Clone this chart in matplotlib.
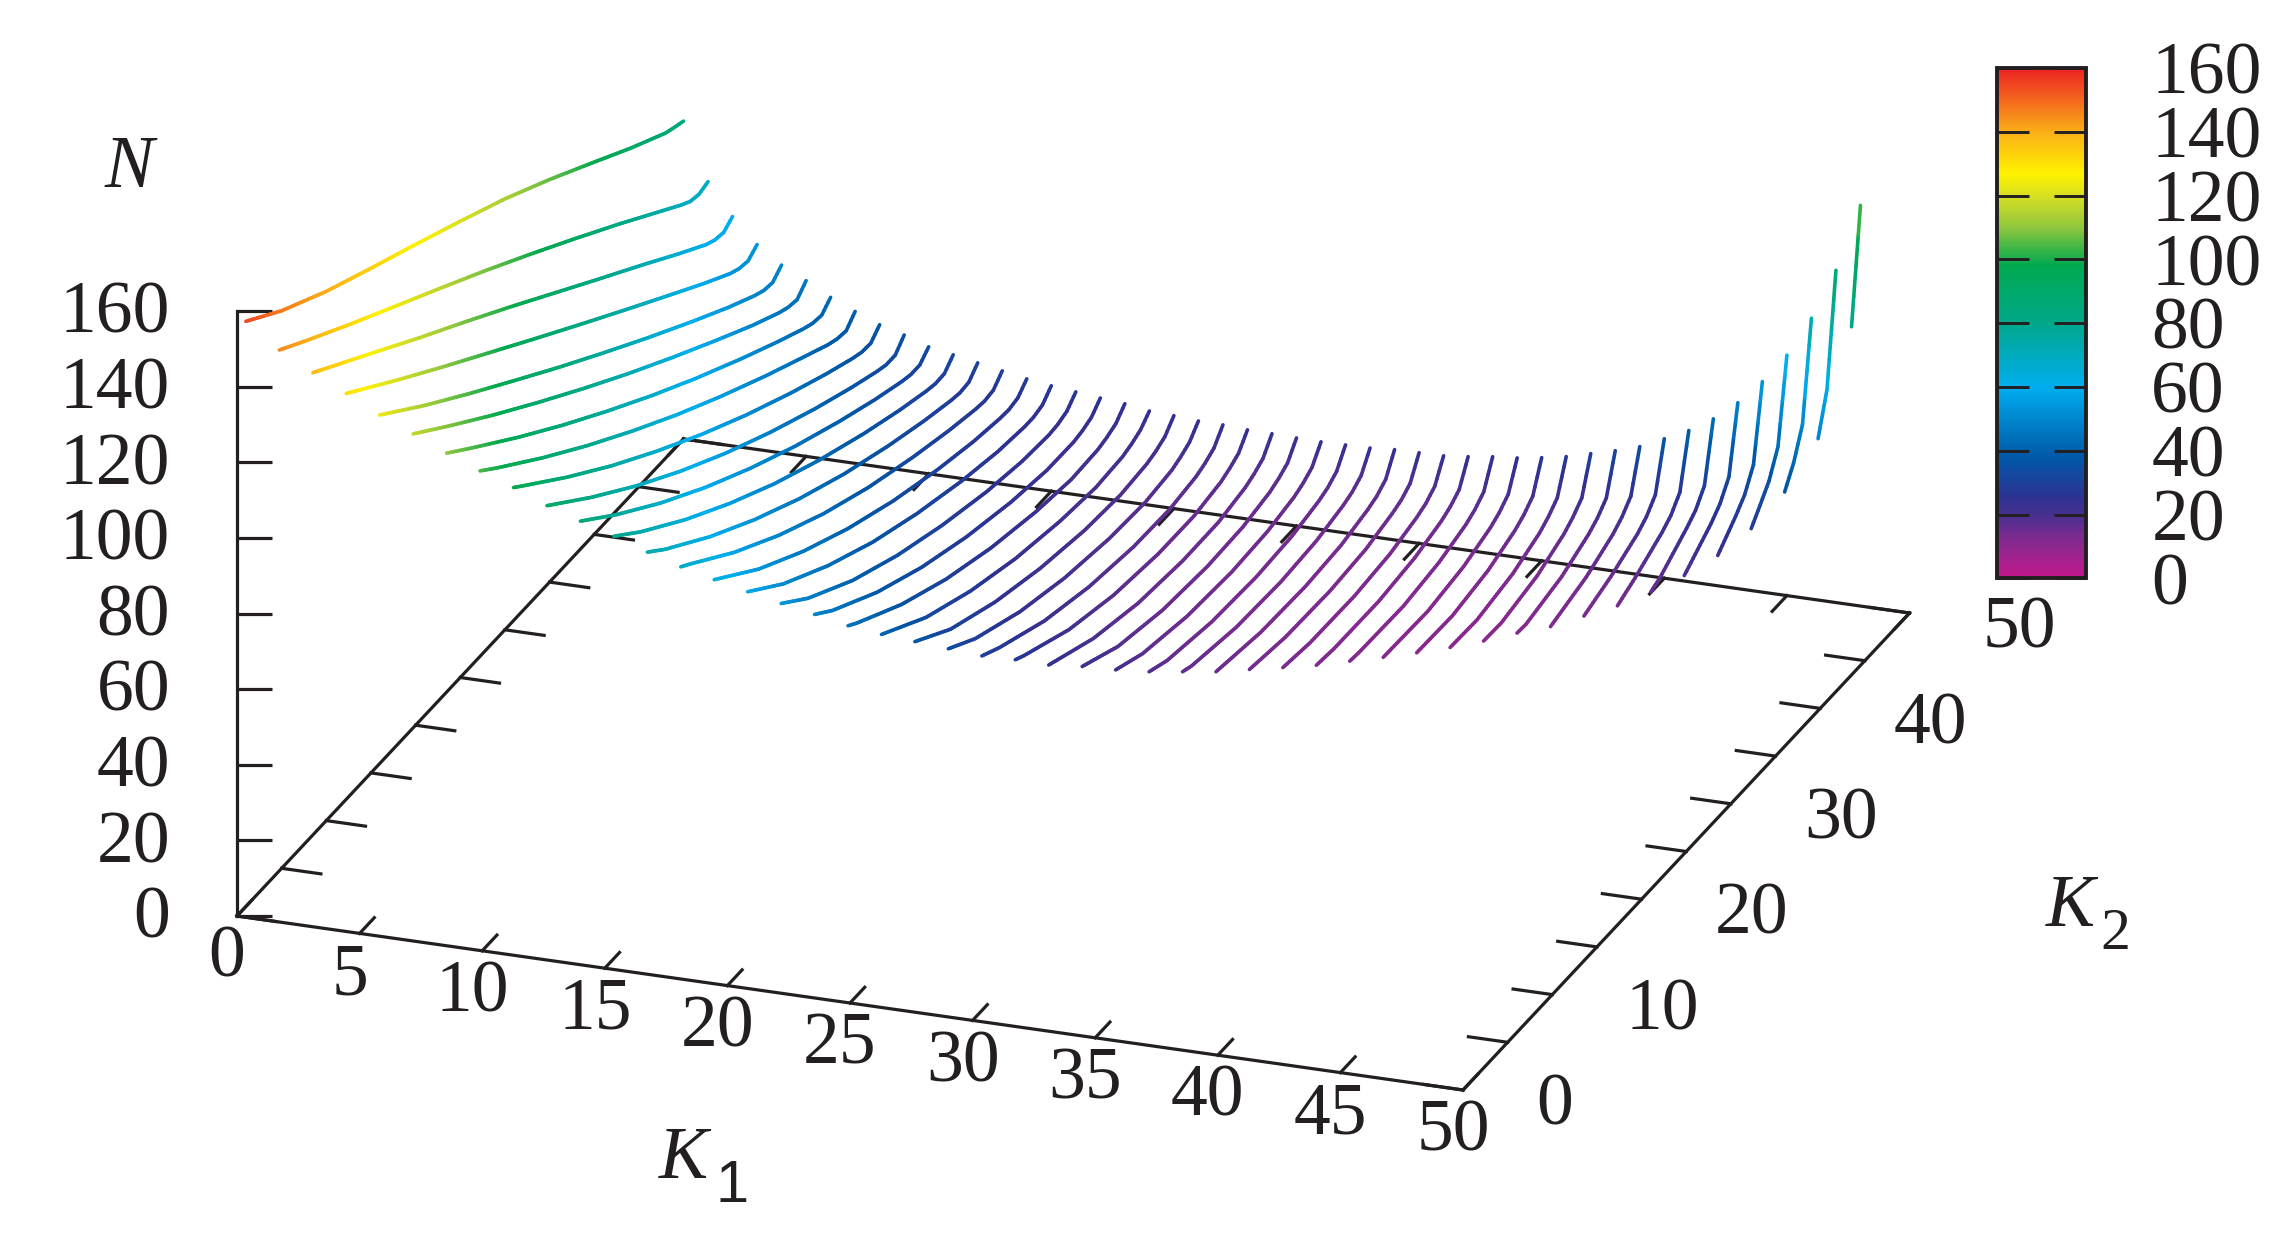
import numpy as np
import matplotlib
matplotlib.use('Agg')
import matplotlib.pyplot as plt
from matplotlib.collections import LineCollection
from matplotlib.colors import LinearSegmentedColormap, Normalize
from matplotlib.cm import ScalarMappable

W, H = 2295, 1236
INK = '#231f20'
SERIF = 'Liberation Serif'

# N. First number of a row is N at K2 = K1 + 1,
# the others belong to the last entries of K2_GRID. One row per K1 = 0..48
K2_GRID = [5, 10, 15, 20, 25, 30, 35, 40, 44, 47, 48, 49, 50]
N_ROWS = [
    [154.8, 147.5, 140, 133.5, 127.2, 120.7, 114, 106.5, 98.5, 92, 87.5, 86, 85, 84.1],
    [145.6, 140.5, 132.3, 124.4, 116.5, 108.5, 100.2, 91.7, 83, 75.8, 70.4, 68.8, 68.2, 69],
    [138, 134.5, 125.8, 117, 108.5, 99.8, 90.9, 82, 73.2, 66, 60.8, 59.5, 59, 60.7],
    [130.9, 129, 119.5, 110.3, 101.3, 92.3, 83.4, 74.6, 65.9, 59, 54.1, 52.9, 52.4, 54.2],
    [123.6, 113.5, 104, 94.8, 85.7, 76.9, 68.3, 60, 53.6, 49.2, 48, 47.6, 49.7],
    [117, 109, 99.3, 90, 81, 72.3, 64, 56, 49.8, 45.6, 44.5, 44, 46.5],
    [110.3, 104.2, 94.3, 84.9, 76, 67.5, 59.5, 52, 46.3, 42.3, 41.2, 40.8, 43],
    [104, 99.8, 89.8, 80.4, 71.6, 63.3, 55.6, 48.4, 43, 39, 38, 37.6, 40.2],
    [98, 95.9, 85.6, 76, 67.2, 59, 51.5, 44.7, 39.7, 36.3, 35.4, 35.2, 37.6],
    [91.6, 81.2, 71.6, 62.9, 55, 47.9, 41.5, 36.9, 33.8, 33, 33, 35.8],
    [85.9, 77.5, 68, 59.5, 51.9, 45.1, 39.1, 34.8, 32, 31.3, 31.3, 33.6],
    [80.3, 73.9, 64.5, 56.2, 48.8, 42.4, 36.8, 32.9, 30.4, 29.8, 29.9, 32.4],
    [74.5, 70.2, 60.9, 52.8, 45.7, 39.6, 34.5, 31, 28.8, 28.3, 28.6, 31.2],
    [69, 67.2, 57.7, 49.6, 42.7, 37, 32.4, 29.3, 27.4, 27, 27.4, 30],
    [64, 54.2, 46.3, 39.7, 34.3, 30, 27.3, 25.9, 25.7, 26.3, 28.8],
    [59.2, 51.2, 43.4, 37, 32, 28, 25.6, 24.6, 24.6, 25.3, 27.9],
    [54.5, 48.3, 40.4, 34.4, 29.7, 26, 24, 23.4, 23.7, 24.6, 27.2],
    [50, 46, 38.2, 32.2, 27.6, 24.2, 22.5, 22.4, 22.9, 23.9, 26.5],
    [45.4, 43.6, 35.9, 30, 25.6, 22.5, 21, 21.4, 22.1, 23.2, 25.9],
    [41.5, 33.4, 27.8, 23.7, 21, 19.8, 20.4, 21.2, 22.4, 24.9],
    [38, 31.2, 25.8, 22, 19.5, 18.7, 19.5, 20.3, 21.6, 24.6],
    [34.5, 29.6, 24.1, 20.4, 18.2, 17.6, 18.6, 19.6, 21, 24.1],
    [31, 28.2, 22.6, 19, 17, 16.7, 17.9, 18.9, 20.4, 24],
    [28.4, 27, 21.2, 17.7, 16, 15.9, 17.3, 18.4, 19.9, 23.6],
    [25.4, 19.8, 16.5, 15.1, 15.2, 16.8, 17.9, 19.5, 23.5],
    [23.4, 18.6, 15.6, 14.5, 14.9, 16.5, 17.6, 19.2, 23.3],
    [20.9, 17.6, 14.9, 14, 14.6, 16.2, 17.3, 19, 23.2],
    [18.8, 16.7, 14.3, 13.6, 14.3, 16, 17, 18.8, 23.3],
    [17.2, 16.2, 13.8, 13.2, 14, 15.8, 16.8, 18.6, 23.4],
    [15.6, 13.4, 12.9, 13.7, 15.6, 16.6, 18.5, 23.9],
    [14.6, 13, 12.6, 13.5, 15.5, 16.5, 18.4, 24],
    [13.5, 12.4, 12.2, 13.3, 15.4, 16.5, 18.5, 24.1],
    [12.5, 11.9, 11.8, 13.1, 15.3, 16.6, 18.6, 24.8],
    [12, 11.7, 11.4, 12.9, 15.3, 16.7, 18.9, 25.7],
    [11.4, 11, 12.7, 15.4, 16.9, 19.2, 26.3],
    [11, 10.7, 12.6, 15.6, 17.2, 19.6, 27.3],
    [10.8, 10.5, 12.6, 15.8, 17.6, 20.1, 28.5],
    [10.9, 10.7, 13, 16.5, 18.4, 21, 30.2],
    [11.4, 11.2, 13.7, 17.3, 19.1, 21.9, 31.9],
    [11.5, 14.5, 18.3, 20.3, 23.3, 33.9],
    [12.7, 15.5, 19.3, 21.3, 24.6, 36.9],
    [13.8, 16.2, 20.6, 22.6, 26.2, 40],
    [15.9, 17, 22.6, 24.8, 28.8, 44],
    [18.6, 24.8, 27.5, 32.1, 49.2],
    [22.3, 27.6, 30.7, 36.2, 55.7],
    [27.8, 31.5, 35.4, 41.9, 63.6],
    [35.9, 41, 48.7, 74.3],
    [48.4, 58.9, 87.9],
    [76.4, 106],
]

K1_TICKS = [0, 5, 10, 15, 20, 25, 30, 35, 40, 45, 50]
K2_TICKS = [0, 5, 10, 15, 20, 25, 30, 35, 40, 45, 50]
K2_LABELS = [0, 10, 20, 30, 40, 50]
N_TICKS = [0, 20, 40, 60, 80, 100, 120, 140, 160]

# colour palette of the box on the right
CMAP_VALUES = [0, 6, 13, 20, 25, 38, 60, 80, 98, 110, 120, 127, 140, 160]
CMAP_COLORS = ['#c2168c', '#a3218e', '#7a2b8f', '#45308f', '#2e3192', '#0059a8', '#00aeef',
               '#00a88a', '#00a94f', '#8cc63f', '#d7df23', '#fff200', '#fbb017', '#ed2224']
cmap = LinearSegmentedColormap.from_list('pal', [(v / 160, c) for v, c in zip(CMAP_VALUES, CMAP_COLORS)])
norm = Normalize(0, 160)


def project(k1, k2, n=0):
    # view of the 3d box, result in pixels of the figure
    x = 237 + 24.52 * np.asarray(k1, float) + 8.93 * np.asarray(k2, float)
    y = 916 + 3.48 * np.asarray(k1, float) - 9.54 * np.asarray(k2, float) - 3.78 * np.asarray(n, float)
    return x, y


def edge(ax, p, q):
    ax.plot([p[0], q[0]], [p[1], q[1]], color=INK, lw=2.3, solid_capstyle='projecting', zorder=2)


fig = plt.figure(figsize=(W / 100, H / 100), dpi=100)
ax = fig.add_axes([0, 0, 1, 1])
ax.set_xlim(0, W)
ax.set_ylim(H, 0)
ax.axis('off')

# --- box ---
edge(ax, project(0, 0), project(50, 0))
edge(ax, project(50, 0), project(50, 50))
edge(ax, project(50, 50), project(0, 50))
edge(ax, project(0, 50), project(0, 0))
edge(ax, project(0, 0), project(0, 0, 160))

for t in K1_TICKS:
    edge(ax, project(t, 0), project(t, 1.65))
    edge(ax, project(t, 50), project(t, 48.35))
    x, y = project(t, 0)
    ax.text(x - 10, y + 43, str(t), fontsize=53, family=SERIF, color=INK, ha='center', va='center')
for t in K2_TICKS:
    edge(ax, project(0, t), project(1.6, t))
    edge(ax, project(50, t), project(48.4, t))
for t in K2_LABELS:
    x, y = project(50, t)
    ax.text(x + 73, y + 17, str(t), fontsize=53, family=SERIF, color=INK, ha='left', va='center')
for t in N_TICKS:
    x, y = project(0, 0, t)
    ax.plot([x, x + 35], [y, y], color=INK, lw=2.3, solid_capstyle='butt', zorder=2)
    ax.text(170, y + 4, str(t), fontsize=53, family=SERIF, color=INK, ha='right', va='center')

# --- curves, one for each K1 ---
segs, vals = [], []
for k1, row in enumerate(N_ROWS):
    k2 = np.array([k1 + 1] + K2_GRID[-(len(row) - 1):], float)
    fine = np.linspace(k2[0], k2[-1], int((k2[-1] - k2[0]) * 4) + 1)
    fine = np.unique(np.concatenate([fine, k2]))
    nn = np.interp(fine, k2, row)   # only so the colour runs along the line
    x, y = project(k1, fine, nn)
    pts = np.column_stack([x, y])
    segs.extend(np.stack([pts[:-1], pts[1:]], axis=1))
    vals.extend((nn[:-1] + nn[1:]) / 2)
lc = LineCollection(segs, cmap=cmap, norm=norm, linewidths=2.6, capstyle='round', zorder=3)
lc.set_array(np.array(vals))
ax.add_collection(lc)

# --- axis names ---
ax.text(105, 187, 'N', fontsize=53, family=SERIF, style='italic', color=INK, ha='left', va='baseline')
ax.text(659, 1178, 'K', fontsize=53, family=SERIF, style='italic', color=INK, ha='left', va='baseline')
ax.text(716, 1202, '1', fontsize=43, family='Liberation Sans', color=INK, ha='left', va='baseline')
ax.text(2046, 926, 'K', fontsize=53, family=SERIF, style='italic', color=INK, ha='left', va='baseline')
ax.text(2100, 949, '2', fontsize=43, family=SERIF, color=INK, ha='left', va='baseline')

# --- colour box ---
cax = fig.add_axes([1997 / W, 1 - 578.5 / H, 89 / W, 510.5 / H])
cb = fig.colorbar(ScalarMappable(norm=norm, cmap=cmap), cax=cax)
cb.outline.set_edgecolor(INK)
cb.outline.set_linewidth(2.8)
cb.set_ticks(N_TICKS)
cax.tick_params(axis='y', direction='in', left=True, right=True, length=23, width=2.1,
                color=INK, pad=47, labelsize=53, labelcolor=INK)
for lab in cax.get_yticklabels():
    lab.set_family(SERIF)

fig.savefig('out.png', dpi=100)
